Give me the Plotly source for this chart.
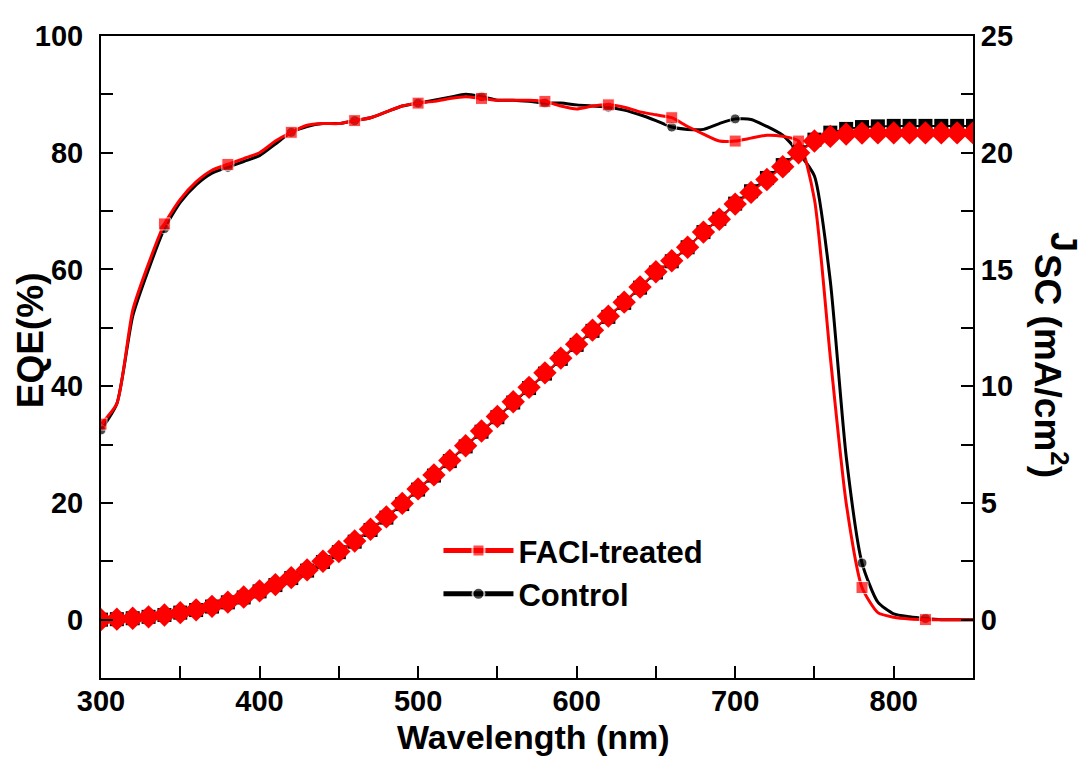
import plotly.graph_objects as go

# ---------------- data ----------------
wavelength = list(range(300, 860, 10))  # 300..850 nm

eqe_faci = [33.5, 37, 53, 61, 67.8, 72, 75, 77, 78, 79,
            80, 82, 83.5, 84.7, 85, 85, 85.5, 86, 87, 88,
            88.5, 88.8, 89.3, 89.6, 89.3, 89, 89, 89, 88.8, 88,
            87.5, 88, 88.2, 87.8, 87, 86.5, 86, 84.5, 83.2, 82,
            82, 82.5, 83, 82.8, 82, 72, 45, 20, 5.5, 1.2,
            0.4, 0.1, 0, 0, 0, 0]

eqe_control = [32.5, 37, 52, 60, 67, 71.5, 74.5, 76.5, 77.5, 78.5,
               79.5, 81.5, 83.5, 84.5, 85, 85, 85.5, 86, 87, 88,
               88.5, 89, 89.5, 90, 89.6, 89, 89, 88.8, 88.5, 88.5,
               88.2, 88, 87.8, 87.3, 86.5, 85.5, 84.4, 84, 84, 85,
               85.8, 85.7, 84.5, 83, 80, 76, 58, 28, 9.7, 3,
               1, 0.5, 0.2, 0, 0, 0]

jsc_faci = [0.0, 0.02, 0.06, 0.12, 0.2, 0.3, 0.42, 0.57, 0.75, 0.97,
            1.23, 1.5, 1.8, 2.13, 2.5, 2.92, 3.37, 3.87, 4.4, 4.98,
            5.6, 6.2, 6.82, 7.45, 8.08, 8.7, 9.33, 9.95, 10.57, 11.2,
            11.8, 12.4, 13.0, 13.6, 14.25, 14.9, 15.37, 15.95, 16.6, 17.15,
            17.8, 18.3, 18.85, 19.4, 20.0, 20.5, 20.7, 20.8, 20.84, 20.85,
            20.85, 20.85, 20.85, 20.85, 20.85, 20.85]

jsc_control = [0.0, 0.02, 0.06, 0.12, 0.2, 0.3, 0.41, 0.56, 0.74, 0.95,
               1.21, 1.48, 1.78, 2.1, 2.47, 2.89, 3.34, 3.84, 4.37, 4.95,
               5.57, 6.17, 6.79, 7.42, 8.05, 8.67, 9.3, 9.92, 10.54, 11.17,
               11.77, 12.37, 12.97, 13.57, 14.22, 14.87, 15.35, 15.95, 16.6, 17.17,
               17.82, 18.35, 18.92, 19.47, 20.02, 20.56, 20.86, 21.02, 21.1, 21.13,
               21.15, 21.15, 21.15, 21.15, 21.15, 21.15]

series_names = ["FACI-treated", "Control"]
x_ticks = [300, 400, 500, 600, 700, 800]
y_ticks = [0, 20, 40, 60, 80, 100]
y2_ticks = [0, 5, 10, 15, 20, 25]

RED = "#ff0000"
BLACK = "#000000"
FONT = "Liberation Sans, Arial, sans-serif"

# markers every 4th point on EQE curves
eqe_marker_size_sq = [12 if i % 4 == 0 else 0 for i in range(len(wavelength))]
eqe_marker_size_ci = [10 if i % 4 == 0 else 0 for i in range(len(wavelength))]

fig = go.Figure()

fig.add_trace(go.Scatter(
    x=wavelength, y=jsc_control, yaxis="y2", mode="lines+markers",
    line=dict(color=BLACK, width=2),
    marker=dict(symbol="square", size=14, color=BLACK),
    showlegend=False, hoverinfo="skip"))

fig.add_trace(go.Scatter(
    x=wavelength, y=jsc_faci, yaxis="y2", mode="lines+markers",
    line=dict(color=RED, width=2),
    marker=dict(symbol="diamond", size=18, color=RED),
    showlegend=False, hoverinfo="skip"))

fig.add_trace(go.Scatter(
    x=wavelength, y=eqe_control, mode="lines+markers", name=series_names[1],
    line=dict(color=BLACK, width=3, shape="spline", smoothing=0.6),
    marker=dict(symbol="circle", size=eqe_marker_size_ci, color=BLACK),
    legendrank=2))

fig.add_trace(go.Scatter(
    x=wavelength, y=eqe_faci, mode="lines+markers", name=series_names[0],
    line=dict(color=RED, width=3, shape="spline", smoothing=0.6),
    marker=dict(symbol="square", size=eqe_marker_size_sq, color=RED),
    legendrank=1))

axis_common = dict(
    showline=True, linecolor=BLACK, linewidth=2,
    ticks="inside", ticklen=12, tickwidth=2, tickcolor=BLACK,
    showgrid=False, zeroline=False,
    tickfont=dict(family=FONT, size=29, color=BLACK, weight="bold"),
)

# plot area in page pixels: x 101..973, y 30..678 (page body has an 8 px margin)
def px(xp):
    return (xp - 101) / 872

def py(yp):
    return (678 - yp) / 648

title_font = dict(family=FONT, size=37, color=BLACK, weight="bold")

fig.update_layout(
    width=1080, height=752,
    margin=dict(l=93, r=115, t=22, b=82),
    paper_bgcolor="white", plot_bgcolor="white",
    font=dict(family=FONT, color=BLACK),
    xaxis=dict(
        range=[300, 850], tickvals=x_ticks, mirror=True,
        minor=dict(dtick=50, ticks="inside", ticklen=12, tickwidth=2, tickcolor=BLACK, showgrid=False),
        ticklabelstandoff=-4,
        **axis_common),
    yaxis=dict(
        range=[-10, 100], tickvals=y_ticks,
        minor=dict(dtick=10, ticks="inside", ticklen=12, tickwidth=2, tickcolor=BLACK, showgrid=False),
        ticklabelstandoff=10,
        **axis_common),
    yaxis2=dict(
        range=[-2.5, 25], tickvals=y2_ticks, overlaying="y", side="right",
        minor=dict(dtick=2.5, ticks="inside", ticklen=12, tickwidth=2, tickcolor=BLACK, showgrid=False),
        **axis_common),
    legend=dict(
        x=0.387, y=0.24, xanchor="left", yanchor="top",
        bgcolor="rgba(0,0,0,0)", itemwidth=70, itemsizing="constant",
        tracegroupgap=0,
        font=dict(family=FONT, size=31, color=BLACK, weight="bold")),
    annotations=[
        dict(text="Wavelength (nm)", xref="paper", yref="paper",
             x=px(533), y=py(738), xanchor="center", yanchor="middle",
             showarrow=False, font=dict(family=FONT, size=34, color=BLACK, weight="bold")),
        dict(text="EQE(%)", textangle=-90, xref="paper", yref="paper",
             x=px(30), y=py(337), xanchor="center", yanchor="middle",
             showarrow=False, font=title_font),
        dict(text="J", textangle=90, xref="paper", yref="paper",
             x=px(1064), y=py(238), xanchor="center", yanchor="middle",
             showarrow=False, font=dict(family=FONT, size=36, color=BLACK, weight="bold")),
        dict(text="SC (mA/cm<sup>2</sup>)", textangle=90, xref="paper", yref="paper",
             x=px(1050), y=py(363), xanchor="center", yanchor="middle",
             showarrow=False, font=dict(family=FONT, size=37, color=BLACK, weight="bold")),
    ],
)

fig.write_html("out.html")
